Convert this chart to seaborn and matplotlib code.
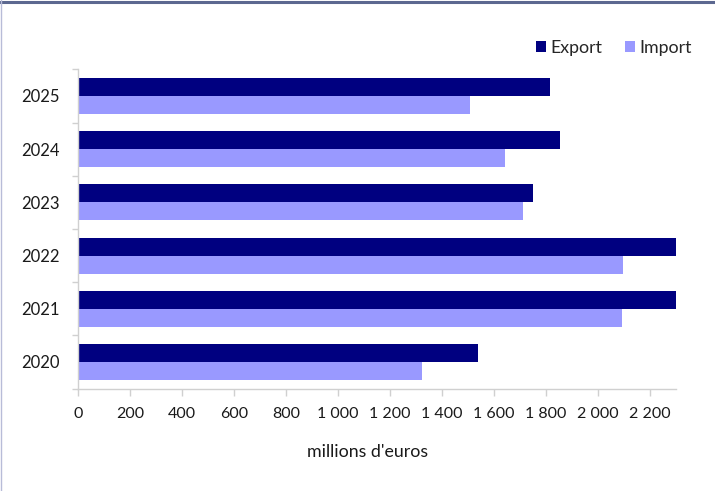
import matplotlib
matplotlib.use("Agg")
import matplotlib.pyplot as plt
import seaborn as sns
import pandas as pd
from matplotlib.ticker import FuncFormatter, FixedLocator
from matplotlib.lines import Line2D
from matplotlib.patches import Patch

years = ["2025", "2024", "2023", "2022", "2021", "2020"]
export_vals = [1815, 1853, 1750, 2320, 2320, 1538]
import_vals = [1508, 1642, 1710, 2095, 2093, 1324]
series_names = ["Export", "Import"]
colors = {"Export": "#000080", "Import": "#9999ff"}
x_ticks = list(range(0, 2201, 200))
x_label = "millions d'euros"

df = pd.DataFrame({
    "year": years * 2,
    "value": export_vals + import_vals,
    "type": ["Export"] * len(years) + ["Import"] * len(years),
})

sns.set_theme(style="white")
plt.rcParams["font.family"] = ["Lato", "DejaVu Sans"]

fig = plt.figure(figsize=(7.15, 4.91), dpi=100)
ax = fig.add_axes([78 / 715, 1 - 388.6 / 491, (676 - 78) / 715, (388.6 - 69.4) / 491])

sns.barplot(data=df, x="value", y="year", hue="type", order=years,
            hue_order=series_names, palette=colors, orient="h",
            width=0.68, ax=ax, legend=False, saturation=1, linewidth=0)

ax.set_xlim(0, 2300)
ax.set_ylim(len(years) - 0.5, -0.5)
ax.set_xticks(x_ticks)
ax.xaxis.set_major_formatter(FuncFormatter(lambda v, p: f"{int(v):,}".replace(",", " ")))
ax.set_ylabel("")
ax.set_xlabel(x_label, fontsize=12.8, color="#1a1a1a")
ax.xaxis.set_label_coords((368 - 78) / 598, -(452 - 388.6) / 319.2)
ax.xaxis.label.set_va("center")

for s in ["top", "right"]:
    ax.spines[s].set_visible(False)
for s in ["left", "bottom"]:
    ax.spines[s].set_color("#d0d0d0")
    ax.spines[s].set_linewidth(1.0)

ax.yaxis.set_minor_locator(FixedLocator([i - 0.5 for i in range(len(years) + 1)]))
ax.tick_params(axis="y", which="major", length=0, pad=13, labelsize=12, labelcolor="#1a1a1a")
ax.tick_params(axis="y", which="minor", length=4, width=1, color="#d0d0d0", left=True)
ax.tick_params(axis="x", which="major", length=5, width=1, color="#d0d0d0", bottom=True,
               pad=8, labelsize=11.5, labelcolor="#1a1a1a")

handles = [Patch(facecolor=colors[n], edgecolor="none", label=n) for n in series_names]
fig.legend(handles=handles, loc="center right", bbox_to_anchor=(692 / 715, 1 - 48 / 491),
           ncol=2, frameon=False, fontsize=12.8, handlelength=0.55, handleheight=0.6,
           handletextpad=0.25, columnspacing=1.3, borderpad=0, borderaxespad=0)

fig.add_artist(Line2D([0, 1], [1 - 1.5 / 491] * 2, transform=fig.transFigure, color="#5c6890", lw=2.2))
fig.add_artist(Line2D([0.5 / 715] * 2, [0, 1], transform=fig.transFigure, color="#b8bcd8", lw=1.0))

fig.savefig("out.png", dpi=100)
